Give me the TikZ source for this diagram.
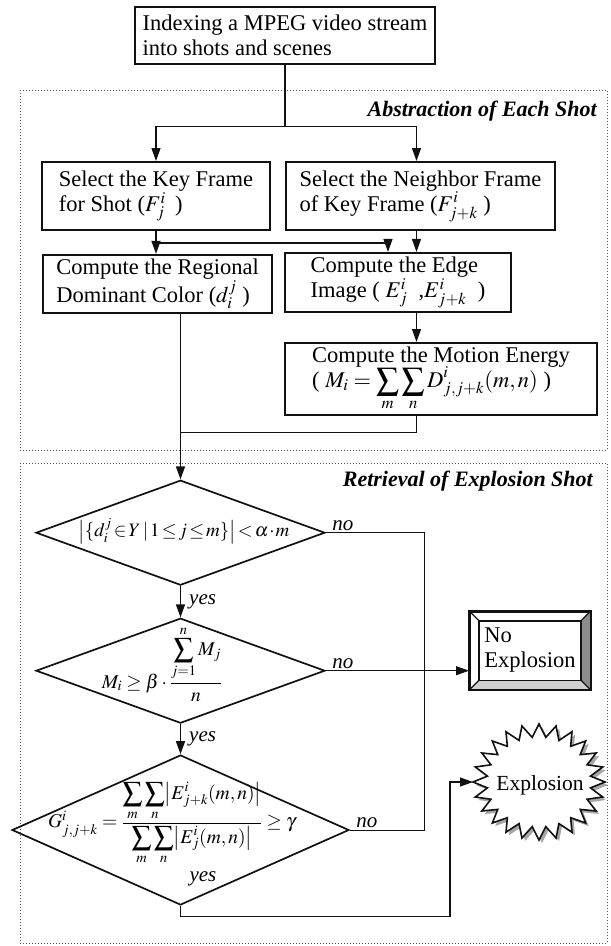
\documentclass[tikz,border=0pt]{standalone}
\usepackage{amsmath}
\usepackage{mathptmx}
\usepackage[no-math]{fontspec}
\setmainfont{Liberation Serif}
\usetikzlibrary{arrows.meta,shapes.geometric,calc,shadows}
\definecolor{xpInk}{HTML}{111111}
\definecolor{xpDots}{HTML}{555555}
\definecolor{xpDark}{HTML}{8C8C8C}
\definecolor{xpLight}{HTML}{CFCFCF}
\newcommand{\xpsize}{\fontsize{22.5}{25}\selectfont}
\tikzset{
  xp box/.style={draw=xpInk, line width=2pt, align=left, font=\xpsize, inner sep=4pt},
  xp decision/.style={diamond, draw=xpInk, line width=1.7pt, inner sep=0pt},
  xp tip/.style={-{Triangle[length=13pt,width=9pt]}},
  xp flow/.style={draw=xpInk, line width=1.4pt, xp tip},
  xp line/.style={draw=xpInk, line width=1.4pt},
  xp no/.style={draw=xpInk, line width=1pt},
  xp group/.style={draw=xpDots, dotted, line width=1pt},
  xp title/.style={font=\fontsize{22}{25}\selectfont\bfseries\itshape, anchor=base east, inner sep=0pt},
  xp label/.style={font=\fontsize{21}{24}\selectfont\itshape, inner sep=2pt},
  xp math/.style={font=\fontsize{19.5}{22}\selectfont, inner sep=0pt},
  xp burst/.style={draw=xpInk, line width=1.6pt, fill=white,
    drop shadow={shadow xshift=3pt, shadow yshift=-3pt, fill=gray!70, opacity=1}},
}

\begin{document}
\begin{tikzpicture}[x=1pt,y=-1pt]
  \useasboundingbox (0,0) rectangle (611,946);
  % the two groups
  \draw[xp group] (20,90) rectangle (607,450);
  \draw[xp group] (20,463) rectangle (607,943);
  \node[xp title] (abs) at (597,116.7) {Abstraction of Each Shot};
  \node[xp title] (ret) at (593,486.7) {Retrieval of Explosion Shot};

  \node[xp box, minimum width=300, minimum height=57] (mpeg) at (285,35) {Indexing a MPEG video stream\\into shots and scenes};
  \node[xp box, minimum width=228, minimum height=68] (key) at (156,196) {Select the Key Frame\\for Shot ($F_j^i$\ \,)};
  \node[xp box, minimum width=269, minimum height=68] (nbr) at (420.5,196) {Select the Neighbor Frame\\of Key Frame ($F_{j+k}^i$\ )};
  \node[xp box, minimum width=229, minimum height=57] (reg) at (157.5,284) {Compute the Regional\\Dominant Color ($d_i^j$\ )};
  \node[xp box, minimum width=226, minimum height=57] (edge) at (398,282.5) {Compute the Edge\\Image ( $E_j^i$\ \ ,$E_{j+k}^i$\ \ )};
  \node[xp box, minimum width=312, minimum height=72, inner ysep=1pt] (motion) at (441,379) {Compute the Motion Energy\\( $M_i=\displaystyle\sum_m\sum_n D^i_{j,j+k}(m,n)$ )};

  \coordinate (br1) at (285,126.7);
  \coordinate (br2) at (156,243);
  \coordinate (br3) at (180.5,432.7);
  \coordinate (col) at ([xshift=-4pt]nbr.south);
  \draw[xp line] (mpeg.south) -- (br1);
  \draw[xp flow] (br1) -| (key.north);
  \draw[xp flow] (br1) -| (col |- nbr.north);
  \draw[xp flow] (key.south) -- (key.south |- reg.north);
  \draw[xp flow] (br2) -| ([xshift=-10pt]edge.north);
  \draw[xp flow] (col) -- (col |- edge.north);
  \draw[xp flow] (col |- edge.south) -- (col |- motion.north);
  \draw[xp line] (col |- motion.south) |- (br3);

  % decisions
  \node[xp decision, minimum width=289, minimum height=105] (d1) at (180.5,532.7) {};
  \node[xp math, font=\fontsize{19}{22}\selectfont] (d1f) at (184,531)
    {$\thickmuskip=2mu \medmuskip=1mu \bigl|\{d_i^j\in Y\,|\,1\le j\le m\}\bigr|<\alpha\cdot m$};
  \node[xp decision, minimum width=289, minimum height=105] (d2) at (180.5,670.7) {};
  \node[xp math] (d2f) at (162,664) {$M_i\ge\beta\cdot\dfrac{\displaystyle\sum_{j=1}^{n}M_j}{n}$};
  \node[xp decision, minimum width=337, minimum height=150] (d3) at (180.5,830) {};
  \node[xp math] (d3f) at (172,823)
    {$\medmuskip=2mu G^i_{j,j+k}=\dfrac{\displaystyle\sum_m\sum_n\bigl|E^i_{j+k}(m,n)\bigr|}{\displaystyle\sum_m\sum_n\bigl|E^i_j(m,n)\bigr|}\ge\gamma$};
  \node[xp label] (d3yes) at (203,879) {yes};

  \draw[xp flow] (d1.north |- reg.south) -- (d1.north);
  \draw[xp flow] (d1.south) -- node[xp label, right, xshift=6pt] (yes1) {yes} (d2.north);
  \draw[xp flow] (d2.south) -- node[xp label, right, xshift=6pt] (yes2) {yes} (d3.north);

  % no explosion
  \node[draw=xpInk, line width=2pt, minimum width=120, minimum height=77.6, align=left, font=\xpsize, inner sep=0pt] (noexp) at (530,650.5) {No\\Explosion};
  \fill[xpDark] (noexp.north east) -- (noexp.south east) -- ($(noexp.south east)+(-10,-10)$) -- ($(noexp.north east)+(-10,10)$) -- cycle;
  \fill[xpLight] (noexp.south west) -- (noexp.south east) -- ($(noexp.south east)+(-10,-10)$) -- ($(noexp.south west)+(10,-10)$) -- cycle;
  \draw[xpInk, line width=1.6pt] ($(noexp.north west)+(10,10)$) rectangle ($(noexp.south east)+(-10,-10)$);
  \draw[xpInk, line width=1.2pt] (noexp.north west) -- ++(10,10) (noexp.north east) -- ++(-10,10)
    (noexp.south west) -- ++(10,-10) (noexp.south east) -- ++(-10,-10);
  \draw[xpInk, line width=2pt] (noexp.north west) rectangle (noexp.south east);

  \coordinate (njoin) at (424,532.7);
  \draw[xp no] (d1.east) -- node[xp label, pos=0, anchor=south west, xshift=4pt] (no1) {no} (njoin) |- (d3.east);
  \draw[xp no] (d3.east) -- node[xp label, pos=0, anchor=south west, xshift=4pt] (no3) {no} ++(20,0);
  \draw[xp no, xp tip] (d2.east) -- node[xp label, pos=0, anchor=south west, xshift=4pt] (no2) {no} (d2.east -| noexp.west);

  % explosion
  \coordinate (xc) at (539,782);
  \draw[xp burst] ($(xc)+(66,0)$)
    \foreach \k [evaluate=\k as \rx using {isodd(\k) ? 52 : 66},
                 evaluate=\k as \ry using {isodd(\k) ? 45 : 58}] in {1,...,47} {
      -- ($(xc)+({\k*7.5}:\rx pt and \ry pt)$) } -- cycle;
  \node[font=\fontsize{21.5}{24}\selectfont, inner sep=0pt] (expl) at (540,785) {Explosion};
  \coordinate (xin) at (473,782);
  \coordinate (xbend) at (450,916.7);
  \draw[xp flow] (d3.south) |- (xbend) |- (xin);
\end{tikzpicture}
\end{document}
